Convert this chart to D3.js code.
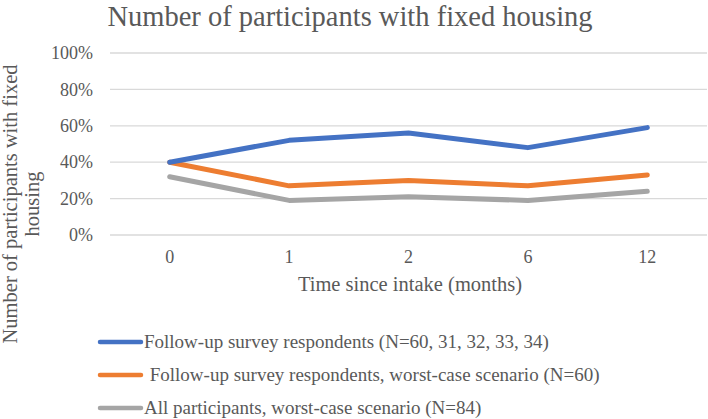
<!DOCTYPE html>
<html><head><meta charset="utf-8">
<script src="https://cdn.jsdelivr.net/npm/d3@7"></script>
<style>body{margin:0;background:#fff}svg{display:block}</style>
</head><body><svg id="c" width="708" height="419"></svg>
<script>
const categories = ["0","1","2","6","12"];
const seriesNames = ["Follow-up survey respondents (N=60, 31, 32, 33, 34)","\u00A0Follow-up survey respondents, worst-case scenario (N=60)","All participants, worst-case scenario (N=84)"];
const blueValues = [0.40,0.52,0.56,0.48,0.59];
const orangeValues = [0.40,0.27,0.30,0.27,0.33];
const grayValues = [0.32,0.19,0.21,0.19,0.24];
const yTicks = [0,0.2,0.4,0.6,0.8,1.0];
const colors = ["#4472C4","#ED7D31","#A5A5A5"];
const series = [blueValues, orangeValues, grayValues];
const FONT = "Liberation Serif, Tinos, Times New Roman, serif";
const TXT = "#595959";

const svg = d3.select("#c");
const x = d3.scaleBand().domain(categories).range([110,707]);
const y = d3.scaleLinear().domain([0,1]).range([235,53]);

svg.append("text").attr("x",350).attr("y",25.5).attr("text-anchor","middle")
  .attr("font-family",FONT).attr("font-size",28.5).attr("fill",TXT)
  .text("Number of participants with fixed housing");

svg.append("g").selectAll("line").data(yTicks).join("line")
  .attr("x1",110).attr("x2",707).attr("y1",d=>y(d)).attr("y2",d=>y(d))
  .attr("stroke","#d9d9d9").attr("stroke-width",1.3);

const yAxis = d3.axisLeft(y).tickValues(yTicks).tickFormat(d3.format(".0%")).tickSize(0).tickPadding(17);
const ya = svg.append("g").attr("transform","translate(110,0)").call(yAxis);
ya.select(".domain").remove();
ya.selectAll("text").attr("fill",TXT).attr("font-family",FONT).attr("font-size",18);

const xAxis = d3.axisBottom(x).tickSize(0).tickPadding(15);
const xa = svg.append("g").attr("transform","translate(0,235)").call(xAxis);
xa.select(".domain").remove();
xa.selectAll("text").attr("fill",TXT).attr("font-family",FONT).attr("font-size",18);

svg.append("text").attr("x",410).attr("y",291).attr("text-anchor","middle")
  .attr("font-family",FONT).attr("font-size",20.5).attr("fill",TXT)
  .text("Time since intake (months)");

const yt = svg.append("text").attr("transform","translate(0,204) rotate(-90)").attr("text-anchor","middle")
  .attr("font-family",FONT).attr("font-size",20.5).attr("fill",TXT);
yt.append("tspan").attr("x",0).attr("y",17).text("Number of participants with fixed");
yt.append("tspan").attr("x",0).attr("y",39).text("housing");

const line = d3.line().x((d,i)=>x(categories[i])+x.bandwidth()/2).y(d=>y(d));
[2,1,0].forEach(idx=>{
  svg.append("path").attr("d",line(series[idx])).attr("fill","none").attr("stroke",colors[idx])
    .attr("stroke-width",5).attr("stroke-linecap","round").attr("stroke-linejoin","round");
});

const legY = [342,375,408];
seriesNames.forEach((n,i)=>{
  svg.append("line").attr("x1",100).attr("x2",141).attr("y1",legY[i]).attr("y2",legY[i])
    .attr("stroke",colors[i]).attr("stroke-width",4.5).attr("stroke-linecap","round");
  svg.append("text").attr("x",i===1?145:144).attr("y",legY[i]+5.5)
    .attr("font-family",FONT).attr("font-size",19).attr("fill",TXT).text(n);
});
</script></body></html>
